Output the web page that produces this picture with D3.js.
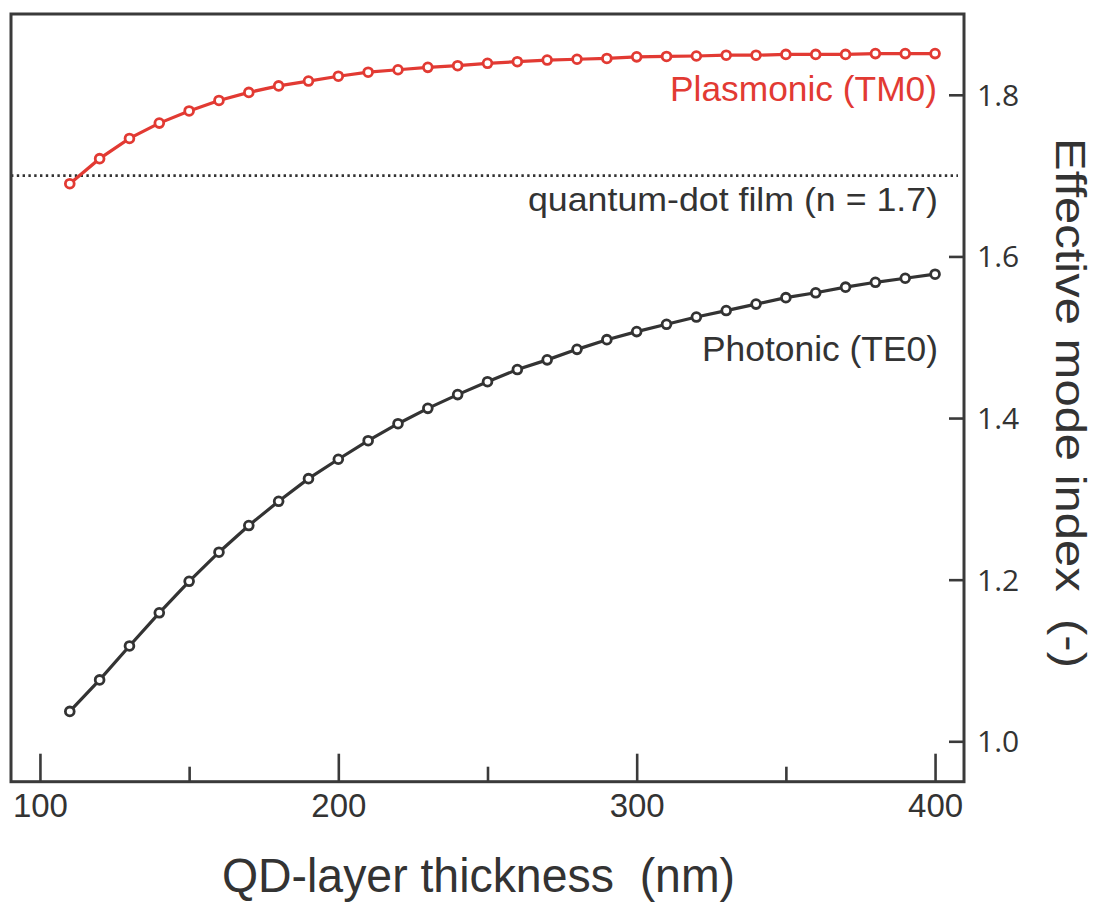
<!DOCTYPE html>
<html>
<head>
<meta charset="utf-8">
<script src="https://cdn.jsdelivr.net/npm/d3@7"></script>
<style>
  html, body { margin: 0; padding: 0; background: #ffffff; }
  svg { display: block; }
</style>
</head>
<body>
<div id="chart"></div>
<script>
// ---- data ----
const thickness = [110,120,130,140,150,160,170,180,190,200,210,220,230,240,250,260,270,280,290,300,310,320,330,340,350,360,370,380,390,400];
const plasmonicTM0 = [1.690,1.721,1.746,1.765,1.780,1.793,1.803,1.811,1.817,1.823,1.828,1.831,1.834,1.836,1.839,1.841,1.843,1.844,1.845,1.847,1.8475,1.848,1.849,1.849,1.850,1.850,1.850,1.851,1.851,1.851];
const photonicTE0 = [1.037,1.076,1.118,1.159,1.198,1.234,1.267,1.297,1.325,1.349,1.372,1.393,1.412,1.429,1.445,1.460,1.472,1.485,1.497,1.507,1.516,1.525,1.533,1.541,1.549,1.555,1.562,1.568,1.573,1.578];
const filmIndex = [1.7];
const xMajorTicks = [100,200,300,400];
const xMinorTicks = [150,250,350];
const yTicks = [1.0,1.2,1.4,1.6,1.8];
const seriesLabels = ["Plasmonic (TM0)", "Photonic (TE0)"];
const filmLabel = "quantum-dot film (n = 1.7)";
const xTitle = "QD-layer thickness  (nm)";
const yTitle = "Effective mode index  (-)";

// ---- layout ----
const W = 1101, H = 903;
const L = 11, T = 14, R = 964, B = 781.7;
const RED = "#e23a33", DARK = "#333333", FRAME = "#3a3a3a";

const svg = d3.select("#chart").append("svg").attr("width", W).attr("height", H);

const x = d3.scaleLinear().domain([90.3, 409.7]).range([L, R]);
const y = d3.scaleLinear().domain([0.95, 1.90]).range([B, T]);

// film dotted line
svg.append("line")
  .attr("x1", L).attr("x2", 958)
  .attr("y1", y(filmIndex[0])).attr("y2", y(filmIndex[0]))
  .attr("stroke", DARK).attr("stroke-width", 2.6)
  .attr("stroke-dasharray", "2.4,3.4");

// x axis major
const gxMaj = svg.append("g").attr("transform", `translate(0,${B})`)
  .call(d3.axisBottom(x).tickValues(xMajorTicks).tickSizeInner(-28).tickSizeOuter(0).tickPadding(12).tickFormat(d3.format("d")));
gxMaj.select(".domain").remove();
gxMaj.selectAll(".tick line").attr("stroke", FRAME).attr("stroke-width", 2.6);
gxMaj.selectAll(".tick text")
  .attr("fill", DARK).attr("font-family", "'Liberation Sans', Arial, sans-serif")
  .attr("font-size", 33).attr("dy", "0.72em");

// x axis minor
const gxMin = svg.append("g").attr("transform", `translate(0,${B})`)
  .call(d3.axisBottom(x).tickValues(xMinorTicks).tickSizeInner(-15).tickSizeOuter(0).tickFormat(""));
gxMin.select(".domain").remove();
gxMin.selectAll(".tick line").attr("stroke", FRAME).attr("stroke-width", 2.6);

// y axis (right)
const gy = svg.append("g").attr("transform", `translate(${R},0)`)
  .call(d3.axisRight(y).tickValues(yTicks).tickSizeInner(-15).tickSizeOuter(0).tickPadding(13).tickFormat(d3.format(".1f")));
gy.select(".domain").remove();
gy.selectAll(".tick line").attr("stroke", FRAME).attr("stroke-width", 2.6);
gy.selectAll(".tick text")
  .attr("fill", DARK).attr("font-family", "'Open Sans', sans-serif")
  .attr("font-size", 30).attr("dy", "0.35em");

// frame
svg.append("rect")
  .attr("x", L).attr("y", T).attr("width", R - L).attr("height", B - T)
  .attr("fill", "none").attr("stroke", FRAME).attr("stroke-width", 3);

// series
const line = d3.line().x(d => x(d[0])).y(d => y(d[1]));
function drawSeries(vals, color) {
  const pts = thickness.map((t, i) => [t, vals[i]]);
  svg.append("path").datum(pts).attr("d", line)
    .attr("fill", "none").attr("stroke", color).attr("stroke-width", 3.2);
  svg.append("g").selectAll("circle").data(pts).join("circle")
    .attr("cx", d => x(d[0])).attr("cy", d => y(d[1])).attr("r", 4.4)
    .attr("fill", "#ffffff").attr("stroke", color).attr("stroke-width", 2.8);
}
drawSeries(plasmonicTM0, RED);
drawSeries(photonicTE0, DARK);

// labels
const FONT = "'Liberation Sans', Arial, sans-serif";
svg.append("text").text(seriesLabels[0])
  .attr("x", 937).attr("y", 101).attr("text-anchor", "end")
  .attr("font-family", FONT).attr("font-size", 35).attr("fill", RED)
  .attr("textLength", 267).attr("lengthAdjust", "spacingAndGlyphs");
svg.append("text").text(filmLabel)
  .attr("x", 938).attr("y", 211).attr("text-anchor", "end")
  .attr("font-family", FONT).attr("font-size", 34).attr("fill", DARK)
  .attr("textLength", 410).attr("lengthAdjust", "spacingAndGlyphs");
svg.append("text").text(seriesLabels[1])
  .attr("x", 938).attr("y", 361).attr("text-anchor", "end")
  .attr("font-family", FONT).attr("font-size", 35).attr("fill", DARK)
  .attr("textLength", 236).attr("lengthAdjust", "spacingAndGlyphs");

// axis titles
svg.append("text").text(xTitle)
  .attr("x", 222).attr("y", 892).attr("text-anchor", "start")
  .attr("font-family", FONT).attr("font-size", 49).attr("fill", DARK)
  .attr("textLength", 513).attr("lengthAdjust", "spacingAndGlyphs")
  .style("white-space", "pre");
svg.append("text").text(yTitle)
  .attr("transform", "translate(1056,138) rotate(90)")
  .attr("text-anchor", "start")
  .attr("font-family", FONT).attr("font-size", 42).attr("fill", DARK)
  .attr("textLength", 530).attr("lengthAdjust", "spacingAndGlyphs")
  .style("white-space", "pre");
</script>
</body>
</html>
